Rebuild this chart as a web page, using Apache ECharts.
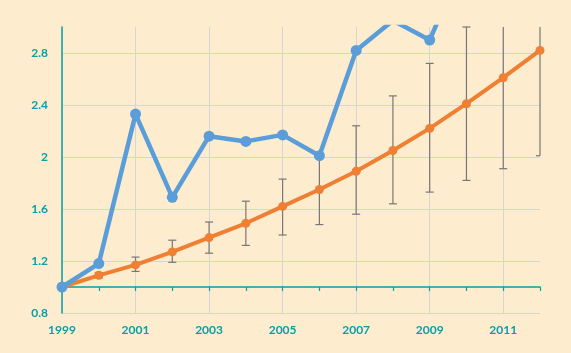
<!DOCTYPE html>
<html>
<head>
<meta charset="utf-8">
<script src="https://cdn.jsdelivr.net/npm/echarts@6/dist/echarts.min.js"></script>
<style>
html, body { margin: 0; padding: 0; background: #fdecce; }
#chart { width: 571px; height: 353px; }
</style>
</head>
<body>
<div id="chart"></div>
<script>
var years = ['1999', '2000', '2001', '2002', '2003', '2004', '2005', '2006', '2007', '2008', '2009', '2010', '2011', '2012'];
var blueValues = [1.0, 1.18, 2.33, 1.69, 2.16, 2.12, 2.17, 2.01, 2.82, 3.05, 2.9, 3.55];
var orangeValues = [1.0, 1.09, 1.17, 1.27, 1.38, 1.49, 1.62, 1.75, 1.89, 2.05, 2.22, 2.41, 2.61, 2.82];
var errLow = [null, 1.07, 1.12, 1.19, 1.26, 1.32, 1.40, 1.48, 1.56, 1.64, 1.73, 1.82, 1.91, 2.01];
var errHigh = [null, 1.11, 1.23, 1.36, 1.50, 1.66, 1.83, 2.02, 2.24, 2.47, 2.72, 3.0, 3.31, 3.63];

var teal = '#07a0a6';
var gridGrey = '#d3d6d6';

var getErrData = function() {
	var rtn = [];
	years.forEach(function(y, i) {
		if (errLow[i] != null) {
			rtn.push([i, errLow[i], errHigh[i]]);
		}
	});
	return rtn;
};

var renderErr = function(params, api) {
	var cs = params.coordSys;
	var top = api.coord([api.value(0), api.value(2)]);
	var bot = api.coord([api.value(0), api.value(1)]);
	var x0 = top[0];
	var hw = 4;
	var style = { stroke: '#777777', lineWidth: 1.2 };
	var children = [{
		type: 'line',
		shape: { x1: x0, y1: Math.max(top[1], cs.y), x2: x0, y2: bot[1] },
		style: style
	}];
	var cap = function(y) {
		children.push({
			type: 'line',
			shape: { x1: Math.max(x0 - hw, cs.x), y1: y, x2: Math.min(x0 + hw, cs.x + cs.width), y2: y },
			style: style
		});
	};
	if (top[1] >= cs.y) cap(top[1]);
	cap(bot[1]);
	return { type: 'group', children: children };
};

var labelFont = {
	color: teal,
	fontFamily: 'Lato',
	fontWeight: 'bold',
	fontSize: 12
};

// copy the shared label font into an axisLabel object
var withFont = function(o) {
	for (var p in labelFont) o[p] = labelFont[p];
	return o;
};

var option = {
	backgroundColor: '#fdecce',
	animation: false,
	grid: { left: 62, right: 31, top: 27, bottom: 40 },
	xAxis: [
		{
			type: 'category',
			data: years,
			boundaryGap: false,
			axisLine: { show: false },
			axisTick: { show: false },
			axisLabel: withFont({ interval: 1, margin: 11 }),
			splitLine: { show: true, interval: 1, lineStyle: { color: gridGrey, width: 1 } }
		},
		{
			// teal base line drawn at y = 1.0
			type: 'category',
			data: years,
			boundaryGap: false,
			position: 'bottom',
			offset: -26,
			axisLine: { show: true, lineStyle: { color: teal, width: 1.5 } },
			axisTick: { show: true, interval: 0, length: 4, lineStyle: { color: teal, width: 1.2 } },
			axisLabel: { show: false },
			splitLine: { show: false }
		}
	],
	yAxis: {
		type: 'value',
		min: 0.8,
		max: 3.0,
		interval: 0.4,
		axisLine: { show: true, lineStyle: { color: teal, width: 1.5 } },
		axisTick: { show: false },
		axisLabel: withFont({ margin: 14, showMaxLabel: false }),
		splitLine: { show: true, showMaxLine: false, lineStyle: { color: gridGrey, width: 1 } }
	},
	series: [
		{
			name: 'error',
			type: 'custom',
			xAxisIndex: 0,
			renderItem: renderErr,
			encode: { x: 0, y: [1, 2] },
			data: getErrData(),
			z: 2
		},
		{
			name: 'orange',
			type: 'line',
			data: orangeValues,
			symbol: 'circle',
			symbolSize: 9,
			lineStyle: { color: '#ee7f33', width: 4 },
			itemStyle: { color: '#ee7f33' },
			z: 3
		},
		{
			name: 'blue',
			type: 'line',
			data: blueValues,
			symbol: 'circle',
			symbolSize: 11,
			clip: true,
			lineStyle: { color: '#5b9dd9', width: 4.5 },
			itemStyle: { color: '#5b9dd9' },
			z: 4
		}
	]
};

var chart = echarts.init(document.getElementById('chart'));
chart.setOption(option, true);
</script>
</body>
</html>
